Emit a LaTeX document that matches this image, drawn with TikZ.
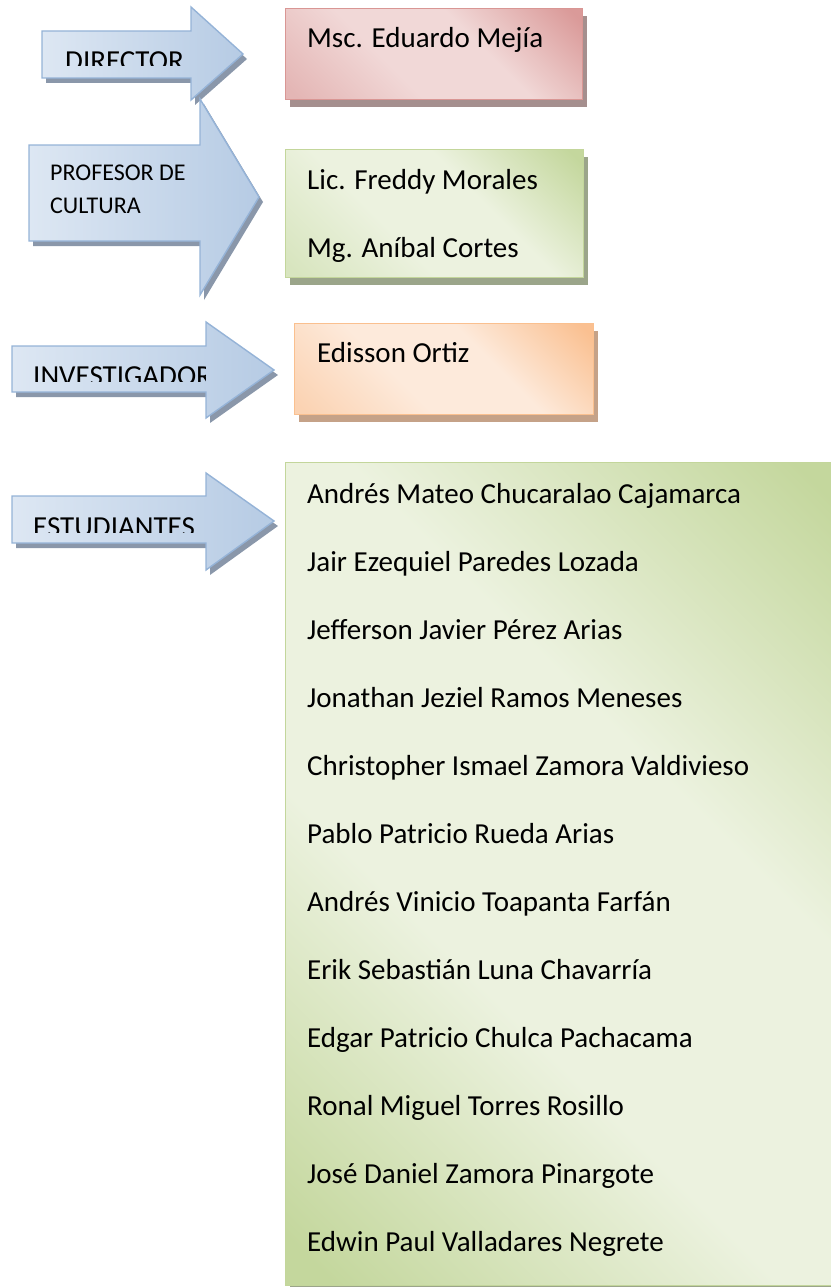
\documentclass[tikz,border=0pt]{standalone}
\usepackage{fontspec}
\setmainfont{Carlito}
\usetikzlibrary{shadows, positioning}
\definecolor{arrowlight}{HTML}{DDE7F3}
\definecolor{arrowdark}{HTML}{B6CBE4}
\definecolor{arrowline}{HTML}{95B3D7}
\definecolor{arrowshadow}{HTML}{8A97AA}
\definecolor{pinklight}{HTML}{F1D8D7}
\definecolor{pinkmid}{HTML}{E4B6B5}
\definecolor{pinkdark}{HTML}{DA9A99}
\definecolor{pinkline}{HTML}{D99694}
\definecolor{pinkshadow}{HTML}{A58F8E}
\definecolor{greenlight}{HTML}{ECF2DF}
\definecolor{greenmid}{HTML}{D8E5BF}
\definecolor{greendark}{HTML}{C4D79D}
\definecolor{greenline}{HTML}{C3D69B}
\definecolor{greenshadow}{HTML}{9BA58A}
\definecolor{orangelight}{HTML}{FDEADB}
\definecolor{orangemid}{HTML}{FBD3B3}
\definecolor{orangedark}{HTML}{FAC091}
\definecolor{orangeline}{HTML}{FAC08F}
\definecolor{orangeshadow}{HTML}{C5A288}

% diagonal band: darker corners (top right, bottom left), light middle
\newcommand{\bandshading}[4]{%
  \pgfdeclareverticalshading{#1}{100bp}{color(0bp)=(#2); color(17bp)=(#2);
    color(40bp)=(#3); color(60bp)=(#3); color(83bp)=(#4); color(100bp)=(#4)}}
\bandshading{pinkband}{pinkmid}{pinklight}{pinkdark}
\bandshading{greenband}{greenmid}{greenlight}{greendark}
\bandshading{orangeband}{orangemid}{orangelight}{orangedark}
\bandshading{studentband}{greendark}{greenlight}{greendark}

\begin{document}
\begin{tikzpicture}[
    x=1pt, y=-1pt,
    blockarrow/.style={draw=arrowline, line width=1.4pt, left color=arrowlight, right color=arrowdark,
        drop shadow={shadow xshift=4pt, shadow yshift=-5pt, fill=arrowshadow, opacity=1}},
    panel/.style={draw=#1line, line width=1.4pt, anchor=north west, inner sep=0pt,
        shade, shading=#1band, shading angle=-45,
        drop shadow={shadow xshift=4pt, shadow yshift=-7pt, fill=#1shadow, opacity=1}},
    arrowtext/.style={anchor=base west, inner sep=0pt, font=\fontsize{29}{34}\selectfont},
    smalltext/.style={anchor=base west, inner sep=0pt, font=\fontsize{24}{28}\selectfont},
    persontext/.style={anchor=base west, inner sep=0pt, font=\fontsize{29}{34}\selectfont}
]
\useasboundingbox (0,0) rectangle (830,1287);

% Arrows
\draw[blockarrow] (42,31) -- (191,31) -- (191,7) -- (243,54) -- (191,100) -- (191,78) -- (42,78) -- cycle;
\draw[blockarrow] (29,145) -- (200,145) -- (200,99) -- (259,197) -- (200,295) -- (200,241) -- (29,241) -- cycle;
\draw[blockarrow] (12,346) -- (206,346) -- (206,322) -- (274,370) -- (206,418) -- (206,392) -- (12,392) -- cycle;
\draw[blockarrow] (12,496) -- (206,496) -- (206,473) -- (274,521) -- (206,570) -- (206,543) -- (12,543) -- cycle;

% Arrow labels (cut off at the bottom as in the original)
\begin{scope}
  \clip (42,30) rectangle (190,66);
  \node[arrowtext] (director) at (65,71) {DIRECTOR};
\end{scope}
\node[smalltext] (profesor) at (50,180) {PROFESOR DE};
\node[smalltext] (cultura) at (50,213) {CULTURA};
\begin{scope}
  \clip (12,345) rectangle (205,381);
  \node[arrowtext] (investigador) at (33,385.5) {INVESTIGADOR};
\end{scope}
\begin{scope}
  \clip (12,495) rectangle (205,532);
  \node[arrowtext] (estudiantes) at (33,536) {ESTUDIANTES};
\end{scope}

% Boxes
\node[panel=pink, minimum width=297pt, minimum height=91pt] (directorbox) at (285,8) {};
\node[panel=green, minimum width=298pt, minimum height=128pt] (profesorbox) at (285,149) {};
\node[panel=orange, minimum width=299pt, minimum height=91pt] (investigadorbox) at (294,323) {};
\node[panel=green, shading=studentband, minimum width=560pt, minimum height=823pt] (estudiantesbox) at (285,462) {};

% Names
\node[persontext] (mejia) at (307,48) {Msc. Eduardo Mejía};
\node[persontext] (morales) at (307,189) {Lic. Freddy Morales};
\node[persontext] (cortes) at (307,257) {Mg. Aníbal Cortes};
\node[persontext] (ortiz) at (317,362) {Edisson Ortiz};
\node[persontext] (s1) at (307,503) {Andrés Mateo Chucaralao Cajamarca};
\node[persontext] (s2) at (307,571) {Jair Ezequiel Paredes Lozada};
\node[persontext] (s3) at (307,639) {Jefferson Javier Pérez Arias};
\node[persontext] (s4) at (307,707) {Jonathan Jeziel Ramos Meneses};
\node[persontext] (s5) at (307,775) {Christopher Ismael Zamora Valdivieso};
\node[persontext] (s6) at (307,843) {Pablo Patricio Rueda Arias};
\node[persontext] (s7) at (307,911) {Andrés Vinicio Toapanta Farfán};
\node[persontext] (s8) at (307,979) {Erik Sebastián Luna Chavarría};
\node[persontext] (s9) at (307,1047) {Edgar Patricio Chulca Pachacama};
\node[persontext] (s10) at (307,1115) {Ronal Miguel Torres Rosillo};
\node[persontext] (s11) at (307,1183) {José Daniel Zamora Pinargote};
\node[persontext] (s12) at (307,1251) {Edwin Paul Valladares Negrete};

\end{tikzpicture}
\end{document}
